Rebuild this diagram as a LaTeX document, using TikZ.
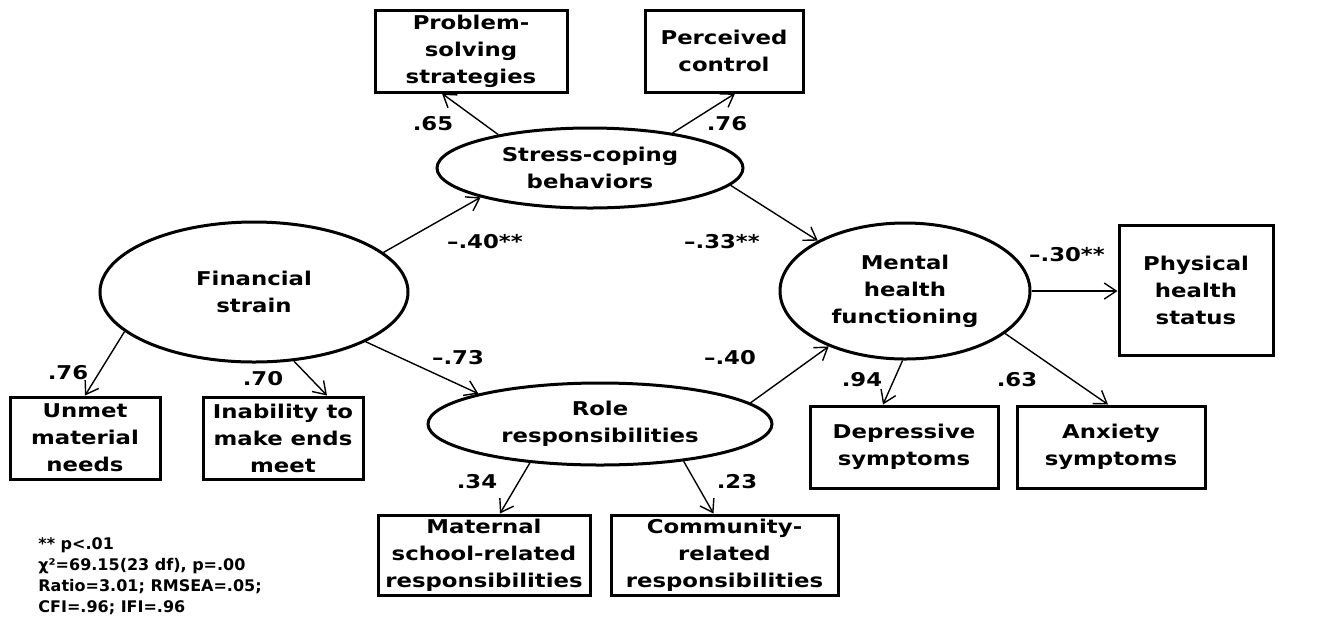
\documentclass[tikz,border=0pt]{standalone}
\usepackage{fontspec}
\setmainfont{DejaVu Sans}[FakeStretch=1.2]
\newfontfamily\legendfont{DejaVu Sans}
\usetikzlibrary{shapes.geometric, arrows.meta, calc}

\tikzset{
  latent/.style={ellipse, draw, line width=1.5pt, inner sep=0pt, align=center},
  indicator/.style={rectangle, draw, line width=1.5pt, inner sep=0pt, align=center},
  coef/.style={inner sep=0pt},
  effect/.style={-{Straight Barb[length=6pt, width=8pt]}, line width=0.7pt},
}

\begin{document}
\begin{tikzpicture}[x=0.5pt, y=-0.5pt, font=\fontsize{9.5}{13.5}\selectfont\bfseries]
  \useasboundingbox (0,0) rectangle (1334,618);

  % Latent constructs
  \node[latent, minimum width=154pt, minimum height=70pt] (fin) at (254,292) {Financial\\strain};
  \node[latent, minimum width=153pt, minimum height=40pt] (stress) at (590,168) {Stress-coping\\behaviors};
  \node[latent, minimum width=172pt, minimum height=41pt] (role) at (600,424) {Role\\responsibilities};
  \node[latent, minimum width=125pt, minimum height=68pt] (ment) at (905,291) {Mental\\health\\functioning};

  % Observed indicators
  \node[indicator, minimum width=96pt, minimum height=41pt] (prob) at (471,51) {Problem-\\solving\\strategies};
  \node[indicator, minimum width=79pt, minimum height=41pt] (perc) at (724,51) {Perceived\\control};
  \node[indicator, minimum width=75pt, minimum height=41pt] (unmet) at (85,438) {Unmet\\material\\needs};
  \node[indicator, minimum width=80pt, minimum height=41pt] (inab) at (283,438) {Inability to\\make ends\\meet};
  \node[indicator, minimum width=106pt, minimum height=40pt] (matern) at (484,555) {Maternal\\school-related\\responsibilities};
  \node[indicator, minimum width=113.5pt, minimum height=40pt] (commun) at (724.5,555) {Community-\\related\\responsibilities};
  \node[indicator, minimum width=77pt, minimum height=65pt] (phys) at (1196,290) {Physical\\health\\status};
  \node[indicator, minimum width=94pt, minimum height=41pt] (depr) at (904,447) {Depressive\\symptoms};
  \node[indicator, minimum width=94pt, minimum height=41pt] (anx) at (1111,447) {Anxiety\\symptoms};

  % Paths
  \draw[effect] (fin.17) -- (stress.195);
  \draw[effect] (fin.-24) -- (role.166);
  \draw[effect] (fin.197) -- (unmet.north);
  \draw[effect] (fin.300) -- ($(inab.north)+(44,0)$);
  \draw[effect] (stress.160) -- ($(prob.south)+(-29,0)$);
  \draw[effect] (stress.23) -- ($(perc.south)+(11,0)$);
  \draw[effect] (stress.-7) -- (ment.150);
  \draw[effect] (role.8) -- (ment.216);
  \draw[effect] (role.209) -- ($(matern.north)+(16,0)$);
  \draw[effect] (role.336) -- ($(commun.north)+(-11,0)$);
  \draw[effect] (ment.east) -- (ment.east -| phys.west);
  \draw[effect] (ment.268) -- ($(depr.north)+(-21,0)$);
  \draw[effect] (ment.337) -- ($(anx.north)+(-3,0)$);

  % Coefficients
  \node[coef] (c-prob) at (433,124) {.65};
  \node[coef] (c-perc) at (727,124) {.76};
  \node[coef] (c-fs) at (485,242) {--.40**};
  \node[coef] (c-sm) at (722,242) {--.33**};
  \node[coef] (c-fr) at (458,358) {--.73};
  \node[coef] (c-rm) at (730,358) {--.40};
  \node[coef] (c-unmet) at (68,373) {.76};
  \node[coef] (c-inab) at (263,379) {.70};
  \node[coef] (c-matern) at (477,482) {.34};
  \node[coef] (c-commun) at (737,482) {.23};
  \node[coef] (c-depr) at (862,380) {.94};
  \node[coef] (c-anx) at (1017,380) {.63};
  \node[coef] (c-phys) at (1067,255) {--.30**};

  % Fit statistics
  \node[anchor=north west, align=left, inner sep=0pt, font=\legendfont\fontsize{8}{10.5}\selectfont\bfseries] (fit) at (38,537)
    {** p<.01\\χ²=69.15(23 df), p=.00\\Ratio=3.01; RMSEA=.05;\\CFI=.96; IFI=.96};
\end{tikzpicture}
\end{document}
